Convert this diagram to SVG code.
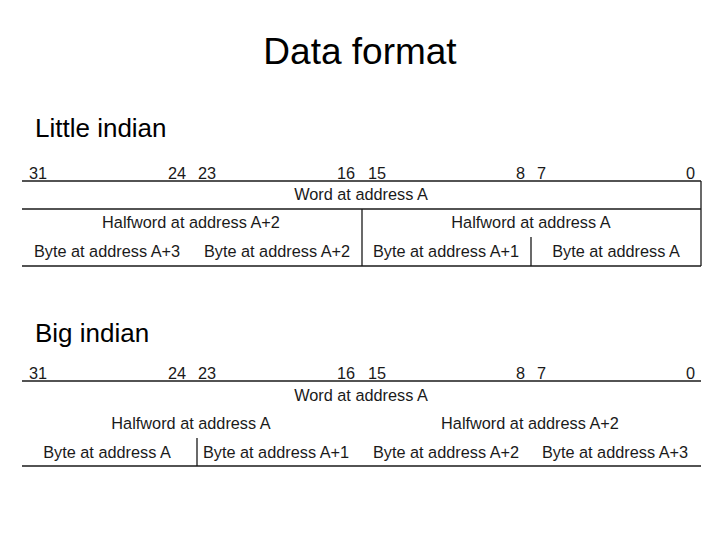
<svg xmlns="http://www.w3.org/2000/svg" width="720" height="540" viewBox="0 0 720 540">
<style>
text{font-family:"Liberation Sans",Arial,sans-serif;fill:#1a1a1a}
.t{font-size:16.3px}
.m{text-anchor:middle}
.e{text-anchor:end}
.h{font-size:26px;fill:#000}
.title{font-size:37px;fill:#000;text-anchor:middle}
line{stroke:#1a1a1a;stroke-width:1.3}
</style>
<rect width="720" height="540" fill="#fff"/>
<text id="title" class="title" x="360" y="64">Data format</text>

<g id="little">
<text class="h" x="35" y="137">Little indian</text>
<g class="t">
<text x="29" y="179">31</text>
<text class="e" x="186" y="179">24</text>
<text x="198" y="179">23</text>
<text class="e" x="355" y="179">16</text>
<text x="368" y="179">15</text>
<text class="e" x="525" y="179">8</text>
<text x="537" y="179">7</text>
<text class="e" x="695" y="179">0</text>
<text class="m" x="361" y="200">Word at address A</text>
<text class="m" x="191" y="228">Halfword at address A+2</text>
<text class="m" x="531" y="228">Halfword at address A</text>
<text class="m" x="107" y="257">Byte at address A+3</text>
<text class="m" x="277" y="257">Byte at address A+2</text>
<text class="m" x="446" y="257">Byte at address A+1</text>
<text class="m" x="616" y="257">Byte at address A</text>
</g>
<g id="little-lines">
<line x1="22" y1="181" x2="701" y2="181"/>
<line x1="22" y1="209" x2="701" y2="209"/>
<line x1="22" y1="266" x2="701" y2="266"/>
<line x1="701" y1="181" x2="701" y2="266"/>
<line x1="362" y1="209" x2="362" y2="266"/>
<line x1="531" y1="237" x2="531" y2="266"/>
</g>
</g>

<g id="big">
<text class="h" x="35" y="342">Big indian</text>
<g class="t">
<text x="29" y="379">31</text>
<text class="e" x="186" y="379">24</text>
<text x="198" y="379">23</text>
<text class="e" x="355" y="379">16</text>
<text x="368" y="379">15</text>
<text class="e" x="525" y="379">8</text>
<text x="537" y="379">7</text>
<text class="e" x="695" y="379">0</text>
<text class="m" x="361" y="401">Word at address A</text>
<text class="m" x="191" y="429">Halfword at address A</text>
<text class="m" x="530" y="429">Halfword at address A+2</text>
<text class="m" x="107" y="458">Byte at address A</text>
<text class="m" x="276" y="458">Byte at address A+1</text>
<text class="m" x="446" y="458">Byte at address A+2</text>
<text class="m" x="615" y="458">Byte at address A+3</text>
</g>
<g id="big-lines">
<line x1="22" y1="381" x2="701" y2="381"/>
<line x1="22" y1="466" x2="701" y2="466"/>
<line x1="197" y1="438" x2="197" y2="466"/>
</g>
</g>
</svg>
